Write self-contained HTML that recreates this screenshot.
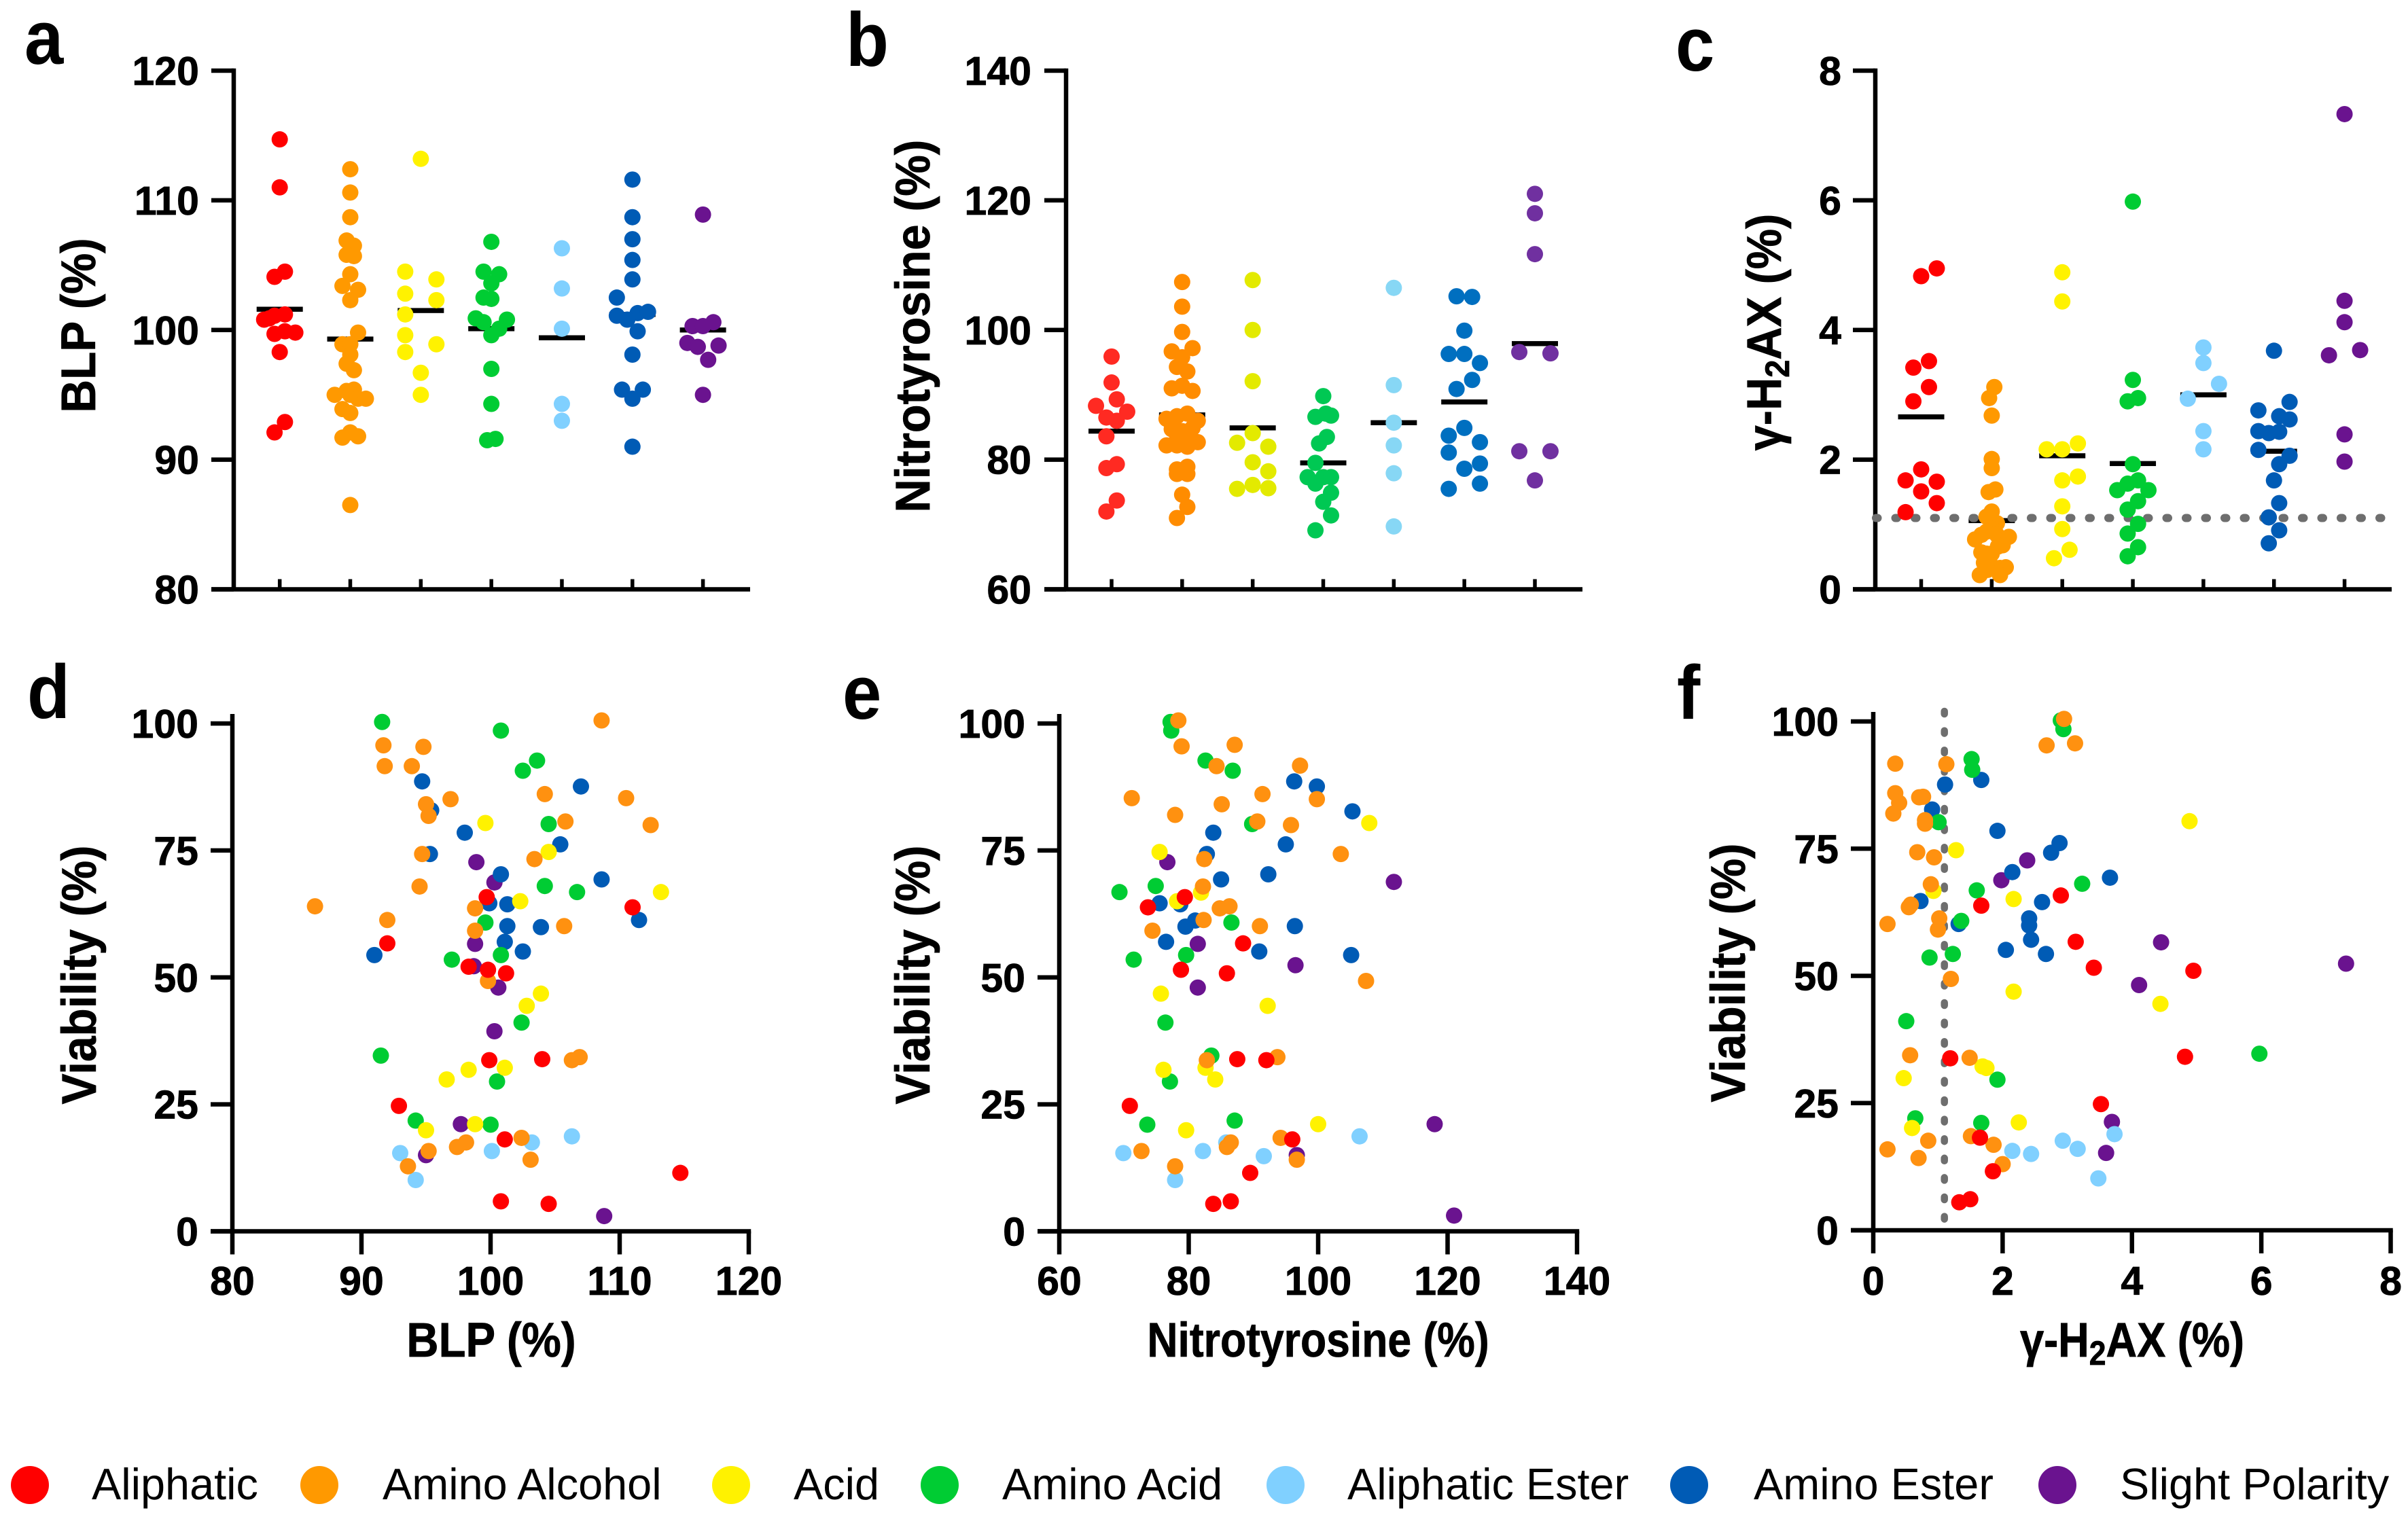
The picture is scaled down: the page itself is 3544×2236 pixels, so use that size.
<!DOCTYPE html>
<html>
<head>
<meta charset="utf-8">
<title>Viability vs BLP, Nitrotyrosine and γ-H2AX</title>
<style>
html,body{margin:0;padding:0;background:#fff;}
svg{display:block;}
text{font-family:"Liberation Sans",Arial,sans-serif;fill:#000;}
.tick{font-weight:700;font-size:59px;stroke:#000;stroke-width:.8px;}
.title{font-weight:700;font-size:71px;stroke:#000;stroke-width:.8px;}
.letter{font-weight:700;font-size:112px;}
.leg{font-size:64.8px;}
</style>
</head>
<body>
<svg id="figure" xmlns="http://www.w3.org/2000/svg" width="3544" height="2236" viewBox="0 0 3544 2236">
  <rect width="3544" height="2236" fill="#fff"/>
  <g id="plots"></g>

  <text class="letter" transform="translate(36,94) scale(.92,1)">a</text>
  <text class="letter" transform="translate(1245,97) scale(.92,1)">b</text>
  <text class="letter" transform="translate(2466,104) scale(.92,1)">c</text>
  <text class="letter" transform="translate(40,1057) scale(.92,1)">d</text>
  <text class="letter" transform="translate(1240,1058) scale(.92,1)">e</text>
  <text class="letter" transform="translate(2468,1058) scale(.92,1)">f</text>

  <text class="title" text-anchor="middle" transform="translate(140,479) rotate(-90) scale(.95,1)">BLP (%)</text>
  <text class="title" text-anchor="middle" transform="translate(1368,480) rotate(-90) scale(.96,1)">Nitrotyrosine (%)</text>
  <text class="title" text-anchor="middle" transform="translate(2621,489) rotate(-90) scale(.94,1)">γ-H<tspan dy="12" font-size="50">2</tspan><tspan dy="-12">AX (%)</tspan></text>
  <text class="title" text-anchor="middle" transform="translate(141,1435) rotate(-90) scale(.95,1)">Viability (%)</text>
  <text class="title" text-anchor="middle" transform="translate(1368,1435) rotate(-90) scale(.95,1)">Viability (%)</text>
  <text class="title" text-anchor="middle" transform="translate(2568,1432) rotate(-90) scale(.95,1)">Viability (%)</text>

  <text class="title" text-anchor="middle" transform="translate(723,1997) scale(.92,1)">BLP (%)</text>
  <text class="title" text-anchor="middle" transform="translate(1940,1997) scale(.88,1)">Nitrotyrosine (%)</text>
  <text class="title" text-anchor="middle" transform="translate(3138,1997) scale(.89,1)">γ-H<tspan dy="12" font-size="50">2</tspan><tspan dy="-12">AX (%)</tspan></text>

  <g>
    <g><circle cx="44" cy="2186" r="28" fill="#ff0000"/><text class="leg" x="135" y="2207">Aliphatic</text></g>
    <g><circle cx="470" cy="2186" r="28" fill="#ff9900"/><text class="leg" x="563" y="2207">Amino Alcohol</text></g>
    <g><circle cx="1076" cy="2186" r="28" fill="#fff200"/><text class="leg" x="1168" y="2207">Acid</text></g>
    <g><circle cx="1383" cy="2186" r="28" fill="#00cc33"/><text class="leg" x="1475" y="2207">Amino Acid</text></g>
    <g><circle cx="1892" cy="2186" r="28" fill="#80d0ff"/><text class="leg" x="1983" y="2207">Aliphatic Ester</text></g>
    <g><circle cx="2486" cy="2186" r="28" fill="#005bb5"/><text class="leg" x="2581" y="2207">Amino Ester</text></g>
    <g><circle cx="3028" cy="2186" r="28" fill="#6a138f"/><text class="leg" x="3120" y="2207">Slight Polarity</text></g>
  </g>
</svg>

<script>
// ---- categories (group order shared by all panels) ----
const categories = ["Aliphatic","Amino Alcohol","Acid","Amino Acid","Aliphatic Ester","Amino Ester","Slight Polarity"];

// ---- tick labels ----
const blpTicks = [80,90,100,110,120];
const nitroTicks = [60,80,100,120,140];
const gammaTicks = [0,2,4,6,8];
const viabilityTicks = [0,25,50,75,100];

// ---- reference thresholds ----
const gammaThreshold = [1.1];

// ---- panel a: BLP by group (values, swarm column, group mean) ----
const blpValues = [
 [114.7,111.0,104.5,104.1,101.2,101.1,100.9,100.8,99.7,99.9,99.8,98.3,92.9,92.1],
 [112.4,110.6,108.7,106.9,106.5,105.8,105.7,104.3,103.4,103.1,102.3,99.8,98.9,98.9,98.1,97.4,96.9,95.0,95.3,95.4,95.0,94.7,94.7,93.9,93.6,92.1,91.7,91.8,86.5],
 [113.2,104.5,103.9,102.8,102.3,101.2,99.6,98.9,98.3,96.7,95.0],
 [106.8,104.5,104.3,103.6,102.5,102.4,100.9,100.6,100.8,100.1,99.6,97.0,94.3,91.5,91.6],
 [106.3,103.2,100.1,94.3,93.0],
 [111.6,108.7,107.0,105.4,103.9,102.5,101.1,101.3,101.4,100.8,99.9,98.1,95.4,95.4,94.7,91.0],
 [108.9,100.6,100.3,100.3,99.0,98.7,98.8,97.7,95.0]
];
const blpSlots = [
 [0,0,1,-1,1,-1,-2,-3,-1,1,3,0,1,-1],
 [0,0,0,-.7,.7,-.7,.7,0,-1.5,1.5,0,1.5,-1.5,0,0,-.7,.7,-3,-.7,.7,0,1.5,3,-1.5,0,0,-1.5,1.5,0],
 [0,-3,3,-3,3,-3,-3,3,-3,0,0],
 [0,-1.5,1.5,0,-1.5,0,-3,-1.5,3,1.5,0,0,0,-.8,.8],
 [0,0,0,0,0],
 [0,0,0,0,0,-3,-3,1,3,-1,1,0,-2,2,0,0],
 [0,2,-2,0,-3,-1,3,1,0]
];
const blpMeans = [101.6,99.3,101.5,100.1,99.4,101.2,100.0];

// ---- panel b: Nitrotyrosine by group ----
const nitroValues = [
 [95.9,91.9,89.3,88.3,87.4,86.5,86.0,83.6,79.3,78.7,73.7,72.0],
 [107.4,103.6,99.7,97.2,96.7,95.8,94.3,93.6,91.0,91.4,90.6,87.1,86.7,86.3,86.0,85.5,84.9,84.7,84.4,83.6,83.1,82.2,82.7,82.2,82.0,78.9,78.5,77.8,77.8,74.6,72.7,71.0],
 [107.7,100.0,92.1,84.1,82.6,82.0,79.6,78.2,76.1,75.5,75.6],
 [89.8,86.6,86.8,87.1,83.5,82.5,79.5,77.3,77.3,77.3,76.3,74.9,73.5,71.4,69.1],
 [106.5,91.5,85.7,82.2,77.9,69.7],
 [105.2,105.1,99.9,96.3,96.3,94.9,92.3,90.9,84.9,83.7,82.7,81.1,79.4,78.6,76.3,75.5],
 [121.0,118.0,111.7,96.6,96.4,81.3,81.3,76.8]
];
const nitroSlots = [
 [0,0,1,-3,3,-1,1,-1,1,-1,1,-1],
 [0,0,0,2,-2,0,-1,1,-2,0,2,1,-1,-3,3,-2,2,-2,0,1,-1,-3,3,-1,1,1,-1,-1,1,0,1,-1],
 [0,0,0,0,-3,3,0,3,0,-3,3],
 [0,-1.5,1.5,.5,.7,-.8,-1.5,-3,0,1.5,-1.5,1.5,0,1.5,-1.5],
 [0,0,0,0,0,0],
 [-1.5,1.5,0,-3,0,3,1.5,-1.5,0,-3,3,-3,3,0,3,-3],
 [0,0,0,-3,3,-3,3,0]
];
const nitroMeans = [84.4,86.9,84.9,79.5,85.7,88.9,97.9];

// ---- panel c: gamma-H2AX by group ----
const gammaValues = [
 [4.95,4.83,3.52,3.42,3.12,2.90,1.85,1.68,1.66,1.51,1.33,1.19],
 [3.12,2.95,2.68,2.01,1.87,1.54,1.50,1.20,1.12,1.02,0.93,0.89,0.84,0.84,0.77,0.81,0.68,0.66,0.55,0.57,0.55,0.41,0.36,0.33,0.34,0.22,0.22,0.30],
 [4.89,4.44,2.25,2.16,2.16,1.74,1.68,1.28,0.93,0.61,0.48],
 [5.98,3.23,2.95,2.90,1.93,1.68,1.63,1.53,1.53,1.36,1.23,1.01,0.86,0.65,0.51],
 [3.73,3.49,3.17,2.94,2.44,2.16],
 [3.68,2.89,2.76,2.67,2.62,2.44,2.41,2.43,2.15,2.06,1.93,1.68,1.33,1.11,0.91,0.71],
 [7.33,4.45,4.12,3.69,3.61,2.39,1.97]
];
const gammaSlots = [
 [3,0,1.5,-1.5,1.5,-1.5,0,-3,3,0,3,-3],
 [.5,-.5,0,0,0,.7,-.6,0,-1,1,.2,-1,-2,1,-3.2,3.3,2.1,1.2,0,-2,-1,-1.5,0,1.6,2.7,-2.3,1.6,-.8],
 [0,0,3,-3,0,3,0,0,0,1.4,-1.6],
 [0,0,1,-1,0,1,-1,-3,3,1,-1,1,-1,1,-1],
 [0,0,3,-3,0,0],
 [0,3,-3,1,3,-3,-1,1,-3,3,1,0,1,-1,1,-1],
 [0,0,0,3,-3,0,0]
];
const gammaMeans = [2.66,1.06,2.06,1.94,3.0,2.13,null];

// ---- panel d: viability vs BLP ----
const dBlp = [
 [114.7,111.0,104.0,104.5,100.8,101.1,99.9,101.2,99.8,98.3,99.7,92.0,92.9],
 [108.6,91.7,94.8,91.8,93.9,96.9,104.2,110.5,95.0,95.2,105.8,112.4,94.7,103.4,94.5,86.4,98.8,92.0,105.7,98.8,99.8,106.3,106.9,98.1,97.4,102.4,95.2,103.1,93.6],
 [99.6,104.5,113.2,102.3,103.9,102.8,101.1,98.3,96.6,98.8,95.0],
 [91.6,100.8,103.6,102.5,104.5,104.2,106.7,99.6,97.0,100.8,102.4,91.5,100.5,94.2,100.0],
 [106.3,103.2,100.1,93.0,94.2],
 [94.7,107.0,95.4,98.0,105.4,95.3,100.8,108.6,99.9,101.3,101.3,103.9,111.5,101.1,102.5,91.0],
 [98.9,100.3,98.8,98.7,100.6,100.3,97.7,95.0,108.8]
];
const dViability = [
 [11.5,63.8,33.9,5.4,5.9,18.1,33.7,50.8,51.5,52.1,65.8,56.7,24.7],
 [100.6,95.7,95.4,91.6,91.6,85.1,86.1,85.3,84.1,81.8,80.7,80.0,74.3,73.3,67.9,64.0,63.6,61.3,60.1,59.2,49.3,33.7,34.3,17.5,16.6,18.4,15.8,14.1,12.8],
 [80.4,74.7,66.8,65.0,46.8,44.4,32.2,31.8,29.9,21.1,19.9],
 [100.3,98.6,92.7,90.7,80.2,68.0,66.8,60.8,53.5,54.4,41.1,34.6,29.5,21.8,21.0],
 [18.7,17.5,15.8,15.4,10.1],
 [88.6,87.6,82.9,78.5,76.2,74.3,70.3,69.3,64.6,64.4,60.1,59.9,61.3,57.0,55.1,54.4],
 [72.7,68.7,56.6,52.2,48.0,39.4,21.1,15.0,3.0]
];

// ---- panel e: viability vs Nitrotyrosine ----
const eNitro = [
 [70.9,73.7,79.4,78.8,88.4,85.9,87.5,92.0,96.0,89.5,83.8,86.5],
 [78.4,78.9,87.1,97.2,84.3,71.2,91.4,99.8,85.1,77.9,90.6,95.8,103.5,82.4,82.2,86.3,84.8,82.3,91.0,74.4,107.4,82.8,93.7,86.5,85.9,94.2,72.7,96.7,77.9],
 [107.9,75.5,81.9,78.2,75.7,92.2,82.6,76.1,84.1,100.0,79.6],
 [77.2,77.3,82.6,86.8,89.8,74.9,69.3,86.6,71.5,79.6,76.4,83.5,77.1,87.1,73.6],
 [106.4,85.8,82.2,91.6,69.9,77.9],
 [96.3,99.8,105.3,83.8,95.0,82.8,92.3,85.0,75.5,78.7,81.0,79.5,96.4,76.5,90.9,105.1],
 [76.7,111.7,81.4,96.5,81.4,118.0,96.7,121.0]
];
const eViability = [
 [24.7,63.8,65.8,51.5,56.7,50.8,33.9,33.7,18.1,11.5,5.4,5.9],
 [100.6,95.5,95.8,91.7,91.6,85.3,86.1,85.1,84.1,82.0,80.7,80.0,74.3,73.3,67.9,64.0,63.6,61.3,60.1,59.2,49.3,33.7,34.3,17.5,16.6,18.4,15.8,14.1,12.8],
 [80.4,74.7,66.7,65.0,46.8,44.4,32.2,31.8,29.9,21.1,19.9],
 [100.3,98.6,92.7,90.7,80.2,68.0,66.8,60.8,53.5,54.4,41.1,34.6,29.5,21.8,21.0],
 [18.7,17.5,15.8,14.8,15.4,10.1],
 [88.6,87.6,82.7,78.5,76.2,74.3,70.3,69.3,64.6,64.4,61.2,60.0,60.1,57.0,55.1,54.4],
 [72.7,68.8,56.6,52.4,48.0,21.1,15.0,3.1]
];

// ---- panel f: viability vs gamma-H2AX ----
const fGamma = [
 [4.95,4.82,3.13,3.41,3.52,2.90,1.67,1.19,1.65,1.85,1.33,1.50],
 [2.95,2.68,3.12,.34,1.13,.34,.40,.71,.77,.31,.80,.80,.68,.94,.89,.55,.58,1.02,.22,1.0,1.20,.57,1.49,1.51,.85,1.86,.22,.70,2.0],
 [4.89,1.28,2.17,.93,2.17,4.44,1.69,1.75,.47,2.25,.60],
 [2.90,2.94,1.52,1.53,1.01,3.23,1.60,1.36,.87,1.23,.51,5.97,1.92,.65,1.67],
 [3.73,2.93,3.16,2.15,2.44,3.48],
 [1.67,1.11,.91,1.92,2.88,2.75,2.15,3.66,.73,2.61,2.41,2.41,1.32,2.44,2.05,2.67],
 [7.31,4.45,4.11,2.38,1.98,3.69,3.60]
];
const fViability = [
 [51.0,34.1,56.7,51.6,24.8,65.8,63.8,33.8,18.2,11.6,5.5,6.1],
 [100.5,95.3,95.7,91.7,91.6,85.9,84.0,85.1,85.2,81.9,80.6,79.9,74.3,73.3,68.0,63.5,64.0,61.3,60.2,59.1,49.4,34.4,33.9,18.5,17.6,16.8,15.9,14.2,13.0],
 [80.4,74.7,65.1,66.7,46.9,44.5,32.2,31.9,29.9,21.2,20.1],
 [100.2,98.5,92.6,90.5,80.2,68.1,66.8,60.8,53.6,54.3,41.1,34.7,29.6,22.0,21.1],
 [18.9,17.6,16.0,15.6,15.0,10.2],
 [88.5,87.6,82.7,78.5,76.1,74.2,70.4,69.3,64.7,64.5,61.3,59.9,60.2,57.1,55.1,54.3],
 [52.4,56.6,48.2,72.7,68.8,21.3,15.2]
];

// ---- styling and layout ----
const paletteTop = ["#ff0000","#ff9900","#fff200","#00cc33","#80d0ff","#005bb5","#6a138f"];
const paletteB = ["#ff2a22","#ff8c00","#e3ea00","#00c853","#87d7f5","#006fc0","#7030a0"];
const paletteScatter = ["#ff0000","#ff9110","#fff200","#00cc33","#80d0ff","#005bb5","#6a138f"];
const SVGNS = "http://www.w3.org/2000/svg";
const root = document.getElementById("plots");
const DOT_R = 12, AXIS_W = 6.5, SLOT_PX = 7.65;

function linear(d0, d1, r0, r1) {
  return function (v) { return r0 + (v - d0) * (r1 - r0) / (d1 - d0); };
}
function mk(parent, tag, attrs) {
  const el = document.createElementNS(SVGNS, tag);
  for (const k in attrs) el.setAttribute(k, attrs[k]);
  parent.appendChild(el);
  return el;
}
function slug(s) { return s.toLowerCase().replace(/\s+/g, "-"); }

function drawYAxis(g, id, ticks, y, axisX, tickLeft, labelX, top, bottom) {
  const line = mk(g, "line", {x1: axisX, x2: axisX, y1: top, y2: bottom, stroke: "#000", "stroke-width": AXIS_W});
  
  
  ticks.forEach(function (t) {
    const tk = mk(g, "line", {x1: tickLeft, x2: axisX, y1: y(t), y2: y(t), stroke: "#000", "stroke-width": AXIS_W});
    
    
    const lb = mk(g, "text", {x: labelX, y: y(t) + 21, "text-anchor": "end", "class": "tick"});
    lb.textContent = t;
    
    
  });
}

function drawSwarm(id, ticks, values, slots, means, box, palette) {
  const g = mk(root, "g", {});
  
  
  const y = linear(ticks[0], ticks[ticks.length - 1], box.bottom, box.top);
  const cat = linear(0, categories.length - 1, box.cat0, box.cat6);
  drawYAxis(g, id, ticks, y, box.axisX, box.tickLeft, box.labelX, box.top - AXIS_W / 2, box.bottom);
  const xLine = mk(g, "line", {x1: box.tickLeft, x2: box.right, y1: box.bottom, y2: box.bottom, stroke: "#000", "stroke-width": AXIS_W});
  
  
  categories.forEach(function (name, i) {
    const tk = mk(g, "line", {x1: cat(i), x2: cat(i), y1: box.bottom, y2: box.bottom - 15, stroke: "#000", "stroke-width": 5.5});
    
    
  });
  categories.forEach(function (name, i) {
    if (means[i] === null) return;
    const bar = mk(g, "rect", {x: cat(i) - 34, y: y(means[i]) - 3.7, width: 68, height: 7.4, fill: "#000"});
    
    
  });
  if (box.threshold !== undefined) {
    const dots = mk(g, "line", {x1: box.axisX + 1, x2: box.right - 2, y1: y(box.threshold), y2: y(box.threshold), stroke: "#6e6e6e", "stroke-width": 12, "stroke-linecap": "round", "stroke-dasharray": "2.5 26"});
    
    
  }
  categories.forEach(function (name, i) {
    values[i].forEach(function (v, j) {
      const c = mk(g, "circle", {cx: cat(i) + slots[i][j] * SLOT_PX, cy: y(v), r: DOT_R, fill: palette[i]});
      
      
    });
  });
}

function drawScatter(id, xTicks, xs, ys, box) {
  const g = mk(root, "g", {});
  
  
  const x = linear(xTicks[0], xTicks[xTicks.length - 1], box.left, box.right);
  const y = linear(0, 100, box.bottom, box.top);
  drawYAxis(g, id, viabilityTicks, y, box.left, box.tickLeft, box.labelX, box.axisTop, box.bottom);
  const xLine = mk(g, "line", {x1: box.tickLeft, x2: box.right + AXIS_W / 2, y1: box.bottom, y2: box.bottom, stroke: "#000", "stroke-width": AXIS_W});
  
  
  xTicks.forEach(function (t) {
    const tk = mk(g, "line", {x1: x(t), x2: x(t), y1: box.bottom, y2: box.bottom + 34, stroke: "#000", "stroke-width": AXIS_W});
    
    
    const lb = mk(g, "text", {x: x(t), y: 1906, "text-anchor": "middle", "class": "tick"});
    lb.textContent = t;
    
    
  });
  [6, 5, 4, 3, 2, 1, 0].forEach(function (i) {
    xs[i].forEach(function (v, j) {
      const c = mk(g, "circle", {cx: x(v), cy: y(ys[i][j]), r: DOT_R, fill: paletteScatter[i]});
      
      
    });
  });
  if (box.threshold !== undefined) {
    const dots = mk(g, "line", {x1: x(box.threshold), x2: x(box.threshold), y1: 1047, y2: 1803, stroke: "#6e6e6e", "stroke-width": 10.5, "stroke-linecap": "round", "stroke-dasharray": "4 24.6"});
    
    
    root.insertBefore(dots, root.firstChild);
  }
}

drawSwarm("a", blpTicks, blpValues, blpSlots, blpMeans,
  {top: 104, bottom: 867.5, axisX: 344, tickLeft: 311, right: 1104, labelX: 293, cat0: 411.7, cat6: 1034.6}, paletteTop);
drawSwarm("b", nitroTicks, nitroValues, nitroSlots, nitroMeans,
  {top: 104, bottom: 867.5, axisX: 1569, tickLeft: 1537, right: 2329, labelX: 1518, cat0: 1636, cat6: 2259}, paletteB);
drawSwarm("c", gammaTicks, gammaValues, gammaSlots, gammaMeans,
  {top: 104, bottom: 867.5, axisX: 2760, tickLeft: 2727, right: 3520, labelX: 2710, cat0: 2827.5, cat6: 3450.6, threshold: gammaThreshold[0]}, paletteTop);

drawScatter("d", blpTicks, dBlp, dViability,
  {top: 1065, bottom: 1812.5, axisTop: 1051, left: 342, right: 1102, tickLeft: 310, labelX: 292});
drawScatter("e", nitroTicks, eNitro, eViability,
  {top: 1065, bottom: 1812.5, axisTop: 1051, left: 1559, right: 2321, tickLeft: 1527, labelX: 1509});
drawScatter("f", gammaTicks, fGamma, fViability,
  {top: 1062, bottom: 1811, axisTop: 1048, left: 2757, right: 3518.5, tickLeft: 2724, labelX: 2706, threshold: gammaThreshold[0]});
</script>
</body>
</html>
